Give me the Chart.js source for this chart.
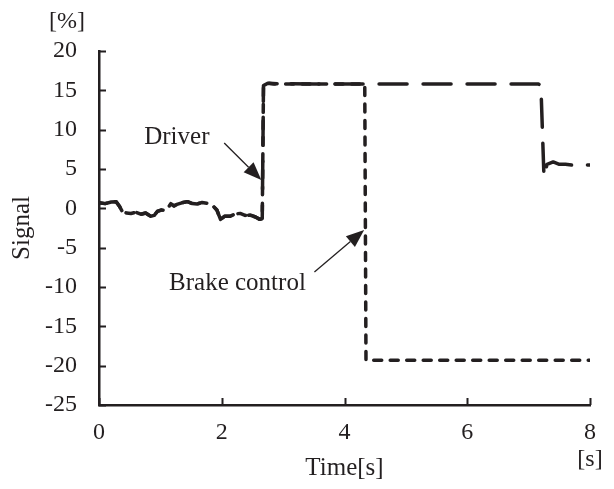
<!DOCTYPE html>
<html>
<head>
<meta charset="utf-8">
<title>Signal</title>
<script src="https://cdn.jsdelivr.net/npm/chart.js@4/dist/chart.umd.min.js"></script>
<style>
  body { margin: 0; background: #fff; }
  #wrap { width: 614px; height: 489px; }
</style>
</head>
<body>
<div id="wrap"><canvas id="signalChart"></canvas></div>
<script>
// time axis ticks [s] and signal axis ticks [%]
const timeTicks = [0, 2, 4, 6, 8];
const signalTicks = [20, 15, 10, 5, 0, -5, -10, -15, -20, -25];

// driver steering signal
const driverTime = [0, 0.1, 0.2, 0.28, 0.33, 0.38, 0.45, 0.52, 0.6, 0.68, 0.76, 0.84, 0.9, 0.95,
  1.02, 1.08, 1.12, 1.17, 1.22, 1.27, 1.35, 1.44, 1.52, 1.6, 1.68, 1.76, 1.83, 1.87, 1.92, 1.98,
  2.05, 2.14, 2.22, 2.3, 2.38, 2.46, 2.55, 2.62, 2.66, 2.68, 2.75, 2.85, 3.0, 3.5, 4.0, 4.5,
  5.0, 5.5, 6.0, 6.5, 7.0, 7.16, 7.2, 7.25, 7.3, 7.4, 7.5, 7.6, 7.7, 7.8, 7.9, 8.0];
const driverSignal = [0.7, 0.6, 0.8, 0.85, 0.3, -0.4, -0.6, -0.65, -0.5, -0.75, -0.6, -1.0, -0.9, -0.4,
  -0.2, -0.3, 0.0, 0.6, 0.3, 0.5, 0.7, 0.85, 0.6, 0.55, 0.75, 0.65, 0.45, 0.2, -0.2, -1.4,
  -1.0, -1.0, -0.7, -0.65, -0.9, -0.85, -1.1, -1.4, -1.3, 15.6, 15.9, 15.8, 15.85, 15.8, 15.8, 15.8,
  15.8, 15.8, 15.8, 15.8, 15.8, 15.8, 15.6, 4.0, 5.6, 5.9, 5.6, 5.6, 5.5, 5.6, 5.5, 5.5];

// brake control signal (follows the driver until the brake kicks in)
const brakeTime = [0, 0.1, 0.2, 0.28, 0.33, 0.38, 0.45, 0.52, 0.6, 0.68, 0.76, 0.84, 0.9, 0.95,
  1.02, 1.08, 1.12, 1.17, 1.22, 1.27, 1.35, 1.44, 1.52, 1.6, 1.68, 1.76, 1.83, 1.87, 1.92, 1.98,
  2.05, 2.14, 2.22, 2.3, 2.38, 2.46, 2.55, 2.62, 2.66, 2.68, 2.75, 3.0, 3.5, 4.0, 4.33, 4.35,
  5.0, 6.0, 7.0, 8.0];
const brakeSignal = [0.7, 0.6, 0.8, 0.85, 0.3, -0.4, -0.6, -0.65, -0.5, -0.75, -0.6, -1.0, -0.9, -0.4,
  -0.2, -0.3, 0.0, 0.6, 0.3, 0.5, 0.7, 0.85, 0.6, 0.55, 0.75, 0.65, 0.45, 0.2, -0.2, -1.4,
  -1.0, -1.0, -0.7, -0.65, -0.9, -0.85, -1.1, -1.4, -1.3, 15.6, 15.9, 15.8, 15.8, 15.8, 15.8, -19.3,
  -19.3, -19.3, -19.3, -19.3];

const ink = '#231f20';
const serif = "'Liberation Serif', 'Times New Roman', serif";

const toPoints = (xs, ys) => xs.map((x, i) => ({ x: x, y: ys[i] }));

// callout labels with arrows, in data coordinates
const callouts = [
  { text: 'Driver', at: [1.80, 9.0], from: [2.04, 8.3], to: [2.645, 3.6] },
  { text: 'Brake control', at: [3.37, -9.5], from: [3.51, -8.1], to: [4.32, -2.75] }
];

const decorations = {
  id: 'decorations',
  afterDatasetsDraw(chart) {
    const { ctx, chartArea: area, scales: { x, y } } = chart;
    ctx.save();
    ctx.strokeStyle = ink;
    ctx.fillStyle = ink;

    // inward tick marks
    ctx.lineWidth = 2;
    ctx.beginPath();
    y.ticks.forEach(t => {
      const py = Math.round(y.getPixelForValue(t.value)) + 0.5;
      ctx.moveTo(area.left, py);
      ctx.lineTo(area.left + 7, py);
    });
    x.ticks.forEach(t => {
      const px = Math.round(x.getPixelForValue(t.value)) + 0.5;
      ctx.moveTo(px, area.bottom);
      ctx.lineTo(px, area.bottom - 7);
    });
    ctx.stroke();

    // callouts
    ctx.font = '25px ' + serif;
    ctx.textAlign = 'right';
    ctx.textBaseline = 'middle';
    callouts.forEach(c => {
      ctx.fillText(c.text, x.getPixelForValue(c.at[0]), y.getPixelForValue(c.at[1]));
      const x0 = x.getPixelForValue(c.from[0]), y0 = y.getPixelForValue(c.from[1]);
      const x1 = x.getPixelForValue(c.to[0]), y1 = y.getPixelForValue(c.to[1]);
      const ang = Math.atan2(y1 - y0, x1 - x0);
      const len = 18, half = 7;
      const bx = x1 - len * Math.cos(ang), by = y1 - len * Math.sin(ang);
      ctx.lineWidth = 1.3;
      ctx.beginPath();
      ctx.moveTo(x0, y0);
      ctx.lineTo(bx, by);
      ctx.stroke();
      ctx.beginPath();
      ctx.moveTo(x1, y1);
      ctx.lineTo(bx + half * Math.sin(ang), by - half * Math.cos(ang));
      ctx.lineTo(bx - half * Math.sin(ang), by + half * Math.cos(ang));
      ctx.closePath();
      ctx.fill();
    });

    // unit labels
    ctx.textAlign = 'center';
    ctx.font = '24px ' + serif;
    ctx.fillText('[%]', area.left - 32, y.getPixelForValue(20) - 29);
    ctx.fillText('[s]', x.getPixelForValue(8), area.bottom + 55);
    ctx.restore();
  }
};

new Chart(document.getElementById('signalChart'), {
  type: 'line',
  data: {
    datasets: [
      {
        label: 'Driver',
        data: toPoints(driverTime, driverSignal),
        borderColor: ink,
        borderWidth: 3.5,
        borderDash: [28, 16],
        borderCapStyle: 'round',
        borderJoinStyle: 'round',
        pointRadius: 0,
        tension: 0
      },
      {
        label: 'Brake control',
        data: toPoints(brakeTime, brakeSignal),
        borderColor: ink,
        borderWidth: 3.5,
        borderDash: [8, 8.5],
        borderCapStyle: 'round',
        borderJoinStyle: 'round',
        pointRadius: 0,
        tension: 0
      }
    ]
  },
  options: {
    responsive: true,
    maintainAspectRatio: false,
    animation: false,
    devicePixelRatio: 1,
    layout: { padding: { left: 0, top: 51, right: 24, bottom: 0 } },
    plugins: { legend: { display: false }, tooltip: { enabled: false } },
    scales: {
      x: {
        type: 'linear',
        min: 0,
        max: 8,
        afterFit: s => { s.height = 84; },
        afterBuildTicks: s => { s.ticks = timeTicks.map(v => ({ value: v })); },
        grid: { display: false, drawTicks: false },
        border: { display: true, color: ink, width: 2.5 },
        ticks: { color: ink, padding: 13, maxRotation: 0, font: { family: serif, size: 24 } },
        title: { display: true, text: 'Time[s]', color: ink, padding: { top: 0, bottom: 6 }, font: { family: serif, size: 25 } }
      },
      y: {
        min: -25,
        max: 20,
        afterFit: s => { s.width = 99; },
        afterBuildTicks: s => { s.ticks = signalTicks.map(v => ({ value: v })); },
        grid: { display: false, drawTicks: false },
        border: { display: true, color: ink, width: 2.5 },
        ticks: { color: ink, padding: 22, font: { family: serif, size: 24 } },
        title: { display: true, text: 'Signal', color: ink, padding: { top: 7, bottom: 0 }, font: { family: serif, size: 25 } }
      }
    }
  },
  plugins: [decorations]
});
</script>
</body>
</html>
